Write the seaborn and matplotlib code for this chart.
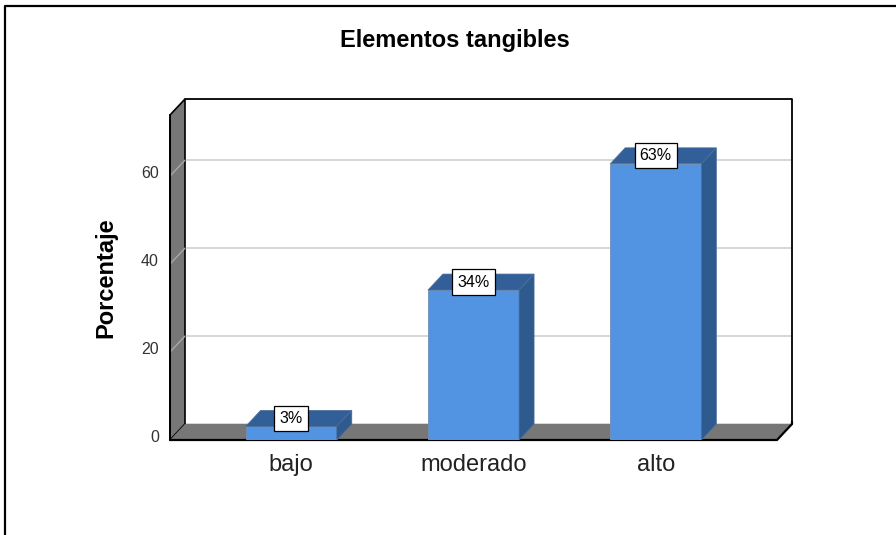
import numpy as np
import pandas as pd
import matplotlib
matplotlib.use('Agg')
import matplotlib.pyplot as plt
import matplotlib.transforms as mtransforms
from matplotlib.patches import Polygon, Rectangle
from matplotlib.lines import Line2D
import seaborn as sns

# data
categories = ['bajo', 'moderado', 'alto']
values = [3.1, 34.1, 62.8]
y_ticks = [0, 20, 40, 60]

FRONT = '#5294e2'
TOP = '#335f99'
SIDE = '#2f5a8e'
WALL = '#777777'

sns.set_style('white')
plt.rcParams['font.family'] = ['Liberation Sans', 'DejaVu Sans']

W, H = 896, 535
fig = plt.figure(figsize=(W / 100, H / 100), dpi=100)
ax = fig.add_axes([170 / W, 95 / H, 607 / W, 325 / H])
ax.patch.set_visible(False)

df = pd.DataFrame({'nivel': categories, 'pct': values})
sns.barplot(data=df, x='nivel', y='pct', color=FRONT, saturation=1, width=0.5,
            edgecolor='#6f8fb8', linewidth=0.6, ax=ax, zorder=3)
bars = list(ax.patches)

x0, x1 = -0.665, 2.665
ymax = 73.9
ax.set_xlim(x0, x1)
ax.set_ylim(0, ymax)
for s in ax.spines.values():
    s.set_visible(False)

# depth offset in data units (15 px right, 16 px up)
dx = 15 * (x1 - x0) / 607
dy = 16 * ymax / 325

kw = dict(clip_on=False)
# back wall
ax.add_patch(Rectangle((x0 + dx, dy), x1 - x0, ymax, fc='white', ec='none', zorder=0.1, **kw))
for v in [0] + y_ticks[1:]:
    ax.add_line(Line2D([x0 + dx, x1 + dx], [v + dy, v + dy], color='#d4d4d4', lw=1.3, zorder=0.2, **kw))
ax.add_line(Line2D([x0 + dx, x1 + dx, x1 + dx], [ymax + dy, ymax + dy, dy], color='black', lw=1.3, zorder=0.3, **kw))
# left side wall
ax.add_patch(Polygon([(x0, 0), (x0 + dx, dy), (x0 + dx, ymax + dy), (x0, ymax)],
                     fc=WALL, ec='black', lw=1.2, zorder=0.4, **kw))
for v in y_ticks[1:]:
    ax.add_line(Line2D([x0, x0 + dx], [v, v + dy], color='#a8a8a8', lw=1.0, zorder=0.5, **kw))
# floor
ax.add_patch(Polygon([(x0, 0), (x1, 0), (x1 + dx, dy), (x0 + dx, dy)],
                     fc=WALL, ec='none', zorder=0.6, **kw))
ax.add_line(Line2D([x0, x1, x1 + dx, x1 + dx], [0, 0, dy, dy + 0.5], color='black', lw=1.6, zorder=0.7, **kw))
ax.add_line(Line2D([x0, x0], [0, ymax], color='black', lw=1.4, zorder=0.7, **kw))

# bar top and side faces + value boxes
for p, v in zip(bars, values):
    bx, bw, h = p.get_x(), p.get_width(), p.get_height()
    ax.add_patch(Polygon([(bx, h), (bx + bw, h), (bx + bw + dx, h + dy), (bx + dx, h + dy)],
                         fc=TOP, ec='#4a6f9c', lw=0.5, zorder=3, **kw))
    ax.add_patch(Polygon([(bx + bw, 0), (bx + bw + dx, dy), (bx + bw + dx, h + dy), (bx + bw, h)],
                         fc=SIDE, ec='#4a6f9c', lw=0.5, zorder=3, **kw))
    ax.text(bx + bw / 2, h + dy / 2, f'{v:.0f}%', ha='center', va='center', fontsize=11.5,
            color='black', zorder=5,
            bbox=dict(boxstyle='square,pad=0.32', fc='white', ec='black', lw=0.9))

ax.set_yticks(y_ticks)
ax.set_yticklabels([str(t) for t in y_ticks], fontsize=11.5, color='#333333')
ax.tick_params(axis='y', length=0, pad=8)
ax.tick_params(axis='x', length=0, pad=10, labelsize=17, labelcolor='#222222')
up = mtransforms.ScaledTranslation(0, 4 / 100, fig.dpi_scale_trans)
for lbl in ax.get_yticklabels():
    lbl.set_transform(lbl.get_transform() + up)
ax.set_xlabel('')
ax.set_ylabel('Porcentaje', fontsize=17, fontweight='bold', color='black')
ax.yaxis.set_label_coords(-0.086, 0.5)

fig.text(455 / W, 1 - 40 / H, 'Elementos tangibles', ha='center', va='center',
         fontsize=17, fontweight='bold', color='black')

# outer frame (left and top edges visible)
fig.add_artist(Line2D([5 / W, 5 / W, 1], [0, 1 - 6 / H, 1 - 6 / H], color='black', lw=1.6,
                      transform=fig.transFigure))

fig.savefig('out.png', dpi=100)
